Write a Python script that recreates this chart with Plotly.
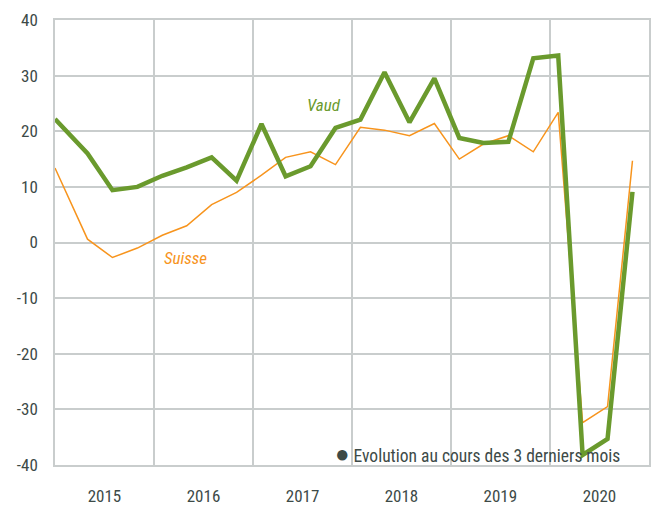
import plotly.graph_objects as go

dates = ["2015-01-01", "2015-05-01", "2015-08-01", "2015-11-01",
         "2016-02-01", "2016-05-01", "2016-08-01", "2016-11-01",
         "2017-02-01", "2017-05-01", "2017-08-01", "2017-11-01",
         "2018-02-01", "2018-05-01", "2018-08-01", "2018-11-01",
         "2019-02-01", "2019-05-01", "2019-08-01", "2019-11-01",
         "2020-02-01", "2020-05-01", "2020-08-01", "2020-11-01"]
vaud = [22.2, 16.0, 9.4, 10.0,
        12.0, 13.5, 15.3, 11.1,
        21.3, 11.9, 13.7, 20.6,
        22.1, 30.6, 21.6, 29.5,
        18.8, 17.9, 18.1, 33.1,
        33.6, -38.2, -35.3, 9.1]
suisse = [13.4, 0.6, -2.7, -1.0,
          1.3, 3.0, 6.8, 9.0,
          12.1, 15.3, 16.3, 14.0,
          20.7, 20.2, 19.2, 21.4,
          15.0, 17.7, 19.2, 16.3,
          23.4, -32.4, -29.5, 14.7]
y_ticks = [-40, -30, -20, -10, 0, 10, 20, 30, 40]
y_ticktext = ["-40", "-30", "-20", "-10", "0", "10", "20", "30", "40"]

GREEN = "#6a9a2d"
ORANGE = "#f7941d"
GRID = "#c9cdcd"
TEXT = "#3d4a47"
FONT = "Roboto Condensed, Liberation Sans Narrow, Roboto, sans-serif"

fig = go.Figure()
fig.add_trace(go.Scatter(x=dates, y=suisse, mode="lines", name="Suisse",
                         line=dict(color=ORANGE, width=1.5)))
fig.add_trace(go.Scatter(x=dates, y=vaud, mode="lines", name="Vaud",
                         line=dict(color=GREEN, width=4.5)))

fig.add_annotation(x="2017-09-20", y=24.8, text="<i>Vaud</i>", showarrow=False,
                   font=dict(family=FONT, size=17, color=GREEN))
fig.add_annotation(x="2016-04-27", y=-2.85, text="<i>Suisse</i>", showarrow=False,
                   font=dict(family=FONT, size=17, color=ORANGE))
fig.add_annotation(xref="paper", x=0.9545, y=-38.0, xanchor="right", yanchor="middle",
                   text="<span style='font-size:24px'>●</span> Evolution au cours des 3 derniers mois",
                   showarrow=False, font=dict(family=FONT, size=17.5, color=TEXT))

fig.update_layout(
    width=656, height=505,
    margin=dict(l=55, r=7, t=20, b=40),
    paper_bgcolor="white", plot_bgcolor="white",
    showlegend=False,
    font=dict(family=FONT, size=17, color=TEXT),
)
fig.update_xaxes(
    type="date", range=["2015-01-01", "2021-01-01"], automargin=False,
    dtick="M12", tick0="2015-01-01", tickformat="%Y", ticklabelmode="period",
    showgrid=True, gridcolor=GRID, gridwidth=1.5,
    showline=True, linecolor=GRID, linewidth=1.5, mirror=True,
    ticks="", ticklabelstandoff=15, zeroline=False,
    tickfont=dict(family=FONT, size=17, color=TEXT),
)
fig.update_yaxes(
    range=[-40, 40], tickvals=y_ticks, ticktext=y_ticktext, automargin=False,
    showgrid=True, gridcolor=GRID, gridwidth=1.5,
    showline=True, linecolor=GRID, linewidth=1.5, mirror=True,
    zeroline=False, ticks="", ticklabelstandoff=12,
    tickfont=dict(family=FONT, size=17, color=TEXT),
)

fig.write_html("out.html", config={"displayModeBar": False},
               post_script="document.body.style.margin='0';document.body.style.overflow='hidden';")
